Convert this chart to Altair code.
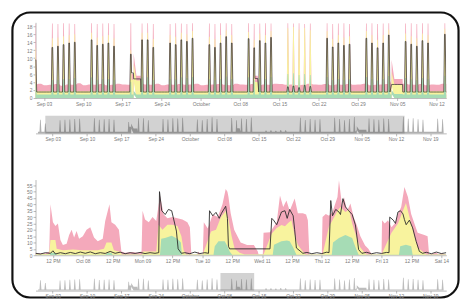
import altair as alt
import pandas as pd

# ---------------- colours ----------------
PINK = "#f4a9bb"
YEL = "#f8f39e"
GRN = "#a6dcb5"
LINE = "#2a2a2a"

# ---------------- long-range series (Aug 31 - Nov 21, 2017) ----------------
spike_days = [
    "2017-08-31", "2017-09-01",
    "2017-09-04", "2017-09-05", "2017-09-06", "2017-09-07", "2017-09-08",
    "2017-09-11", "2017-09-12", "2017-09-13", "2017-09-14", "2017-09-15",
    "2017-09-18", "2017-09-20", "2017-09-21", "2017-09-22",
    "2017-09-25", "2017-09-26", "2017-09-27", "2017-09-28", "2017-09-29",
    "2017-10-02", "2017-10-03", "2017-10-04", "2017-10-05", "2017-10-06",
    "2017-10-09", "2017-10-10", "2017-10-11", "2017-10-12", "2017-10-13",
    "2017-10-16", "2017-10-17", "2017-10-18", "2017-10-19", "2017-10-20",
    "2017-10-23", "2017-10-24", "2017-10-25", "2017-10-26", "2017-10-27",
    "2017-10-30", "2017-10-31", "2017-11-01", "2017-11-02", "2017-11-03",
    "2017-11-06", "2017-11-07", "2017-11-08", "2017-11-09", "2017-11-10",
    "2017-11-13", "2017-11-14", "2017-11-15", "2017-11-16", "2017-11-17",
    "2017-11-20", "2017-11-21",
]
black_peak = [
    13.0, 9.6,
    12.7, 13.0, 13.4, 13.8, 14.0,
    14.6, 13.2, 13.5, 13.8, 13.0,
    11.0, 14.6, 14.6, 12.7,
    13.8, 13.4, 14.6, 14.2, 15.0,
    13.4, 12.7, 13.8, 15.4, 13.8,
    14.9, 12.6, 14.4, 13.8, 15.2,
    2.8, 3.0, 2.6, 3.2, 2.9,
    15.0, 12.8, 13.8, 13.2, 13.5,
    15.0, 13.8, 12.6, 13.8, 15.8,
    14.2, 13.5, 13.0, 14.4, 13.8,
    16.0, 14.0, 14.5, 13.5, 13.0,
    14.0, 13.5,
]
yellow_peak = [
    14.5, 12.5,
    15.0, 15.2, 15.5, 15.8, 16.0,
    16.4, 15.2, 15.5, 15.8, 15.0,
    12.0, 16.4, 16.4, 14.8,
    15.8, 15.4, 16.4, 16.0, 16.8,
    15.4, 14.8, 15.8, 17.0, 15.8,
    16.6, 14.6, 16.2, 15.8, 16.8,
    17.5, 17.8, 17.2, 17.6, 17.0,
    16.8, 14.8, 15.8, 15.2, 15.5,
    16.8, 15.8, 14.6, 15.8, 17.2,
    16.2, 15.5, 15.0, 16.2, 15.8,
    17.4, 16.0, 16.5, 15.5, 15.0,
    16.0, 15.5,
]
pink_peak = [
    18.5, 18.6,
    18.7, 18.6, 18.8, 18.7, 18.6,
    18.8, 18.6, 18.7, 18.8, 18.6,
    18.8, 18.7, 18.8, 18.6,
    18.6, 18.8, 18.7, 18.6, 18.8,
    18.7, 18.6, 18.8, 18.8, 18.6,
    18.8, 18.6, 18.7, 18.8, 18.7,
    18.8, 18.7, 18.8, 18.6, 18.7,
    18.8, 18.6, 18.7, 18.8, 18.6,
    18.7, 18.8, 18.6, 18.7, 18.8,
    18.7, 18.8, 18.6, 18.8, 18.7,
    18.8, 18.7, 18.6, 18.8, 18.7,
    18.6, 18.7,
]
green_peak = [
    4.5, 3.5,
    4.5, 4.6, 4.8, 4.8, 5.0,
    5.2, 4.6, 4.8, 4.8, 4.6,
    4.0, 5.2, 5.2, 4.5,
    4.8, 4.7, 5.2, 5.0, 5.3,
    4.7, 4.5, 4.8, 5.4, 4.8,
    5.2, 4.5, 5.0, 4.8, 5.3,
    6.0, 6.2, 5.8, 6.0, 5.8,
    5.3, 4.5, 4.8, 4.6, 4.7,
    5.3, 4.8, 4.4, 4.8, 5.5,
    5.0, 4.7, 4.5, 5.0, 4.8,
    5.6, 4.9, 5.0, 4.7, 4.5,
    4.9, 4.7,
]
first_day = "2017-08-31"
pink_base = [
    3.3, 3.4, 3.6, 3.2, 3.3, 3.5, 3.1, 3.4, 3.3, 3.7,
    3.2, 3.4, 3.3, 3.5, 3.2, 3.3, 3.6, 3.4, 3.3, 3.2,
    3.5, 3.4, 3.3, 3.6, 3.2, 3.4, 3.3, 3.5, 3.3, 3.4,
    3.6, 3.2, 3.3, 3.4, 3.5, 3.3, 3.2, 3.6, 3.4, 3.3,
    3.5, 3.2, 3.4, 3.3, 3.6, 3.5, 3.3, 3.4, 3.2, 3.3,
    3.6, 3.4, 3.3, 3.5, 3.2, 3.4, 3.3, 3.5, 3.3, 3.4,
    3.6, 3.2, 3.3, 3.4, 3.5, 3.3, 3.2, 3.6, 3.4, 3.3,
    3.5, 3.2, 3.4, 3.3, 3.6, 3.5, 3.3, 3.4, 3.2, 3.3,
    3.5, 3.4, 3.3,
]
black_base = 1.5
yellow_base = 1.7
green_base = 0.9

flat_start = ["2017-09-18 15:00", "2017-09-19 00:00", "2017-10-10 15:00", "2017-11-04 00:00"]
flat_end = ["2017-09-18 23:00", "2017-09-20 06:00", "2017-10-11 03:00", "2017-11-05 23:00"]
flat_black = [6.3, 4.8, 4.9, 3.4]
flat_yellow = [4.6, 4.4, 4.0, 3.3]
flat_pink = [6.0, 5.6, 5.6, 4.8]
flat_green = [0.9, 0.9, 0.9, 1.0]

# ---------------- one-week detail series (hours from Oct 7 00:00) ----------------
d_pink_h = [5, 9, 10.5, 11, 12, 13, 14, 15, 16, 17.5, 18.5, 19.5, 20.5, 21.5, 22.5, 24, 25.5, 27,
            28.5, 30, 32, 33, 34.7, 35.5, 37, 38.5, 39.5, 41, 44, 46, 47.6, 48, 49, 50.5, 52, 53.5,
            55, 56.5, 58, 60, 62, 64, 66, 67, 67.6, 70, 70.5, 71.2, 72.2, 72.6, 74.2, 76.2, 78.2,
            80.1, 81.4, 82.1, 82.5, 83.4, 84.8, 87.4, 90, 92.7, 94.3, 94.6, 96.3, 96.6, 99.2, 101.9,
            103.2, 104.5, 105.8, 107.1, 109.1, 110.4, 112.4, 113.7, 114.4, 115.0, 120.0, 120.3, 121.6,
            122.9, 124.3, 126.3, 126.9, 128.2, 128.9, 130.2, 131.5, 132.8, 134.2, 135.5, 137.4, 138.7,
            140.1, 144.0, 144.2, 145.3, 146.6, 148.0, 149.3, 150.6, 151.9, 153.2, 154.6, 155.9, 157.2,
            158.5, 161.2, 162.5, 163.1, 166, 167, 168, 170]
d_pink_v = [1.5, 1.5, 3, 40, 26, 23, 25, 12, 8, 9, 16, 20, 14, 19, 13, 15, 20, 22,
            14, 11, 13, 27, 40, 26, 24, 20, 3, 2, 2.5, 2, 3, 35, 28, 26, 30, 27,
            47, 32, 29, 30, 29, 28, 26, 22, 0.5, 0.5, 3, 0.5, 0.5, 26, 21, 32, 30,
            40, 52, 50, 46, 33, 20, 10, 8, 8, 3, 0.5, 0.5, 17.6, 18, 26,
            47, 38, 43, 35, 44.7, 33, 33, 32, 27.6, 0.5, 0.5, 30, 32.5,
            31, 34, 45.7, 59, 38, 45.7, 35, 40.6, 30, 22.7, 15, 7.6, 5,
            0.5, 0.5, 27.6, 25, 27.6, 22, 25, 32.5, 38, 53.6, 45.7, 32.5, 25,
            17.6, 16, 15, 0.5, 2, 0.5, 1.5, 0.5]

d_yel_h = [5, 10.5, 11, 13, 13.5, 16, 20, 24, 30, 32.5, 33.5, 35.5, 36.5, 39.3, 39.6, 47.8, 48.2,
           53.5, 54.4, 56, 58, 60, 62, 63.6, 64.5, 65.5, 72.2, 75.5, 77.5, 79.5, 81.5, 82.6, 83.8,
           85, 87, 89, 96.6, 99.9, 101.9, 103.8, 105.2, 106.5, 107.8, 109.1, 110.4, 112.4, 113.5,
           120.3, 122.9, 124.3, 126.3, 127.5, 129.5, 131, 132.2, 134.2, 135.5, 136.8, 138, 144,
           148, 150.6, 153.8, 155.9, 157.2, 158.5, 160.5, 162, 170]
d_yel_v = [0.8, 1, 12, 12, 5, 4, 4.5, 4, 4, 5, 10, 10, 4, 2.5, 0.5, 0.5, 3,
           3, 24, 20, 24, 24, 23, 15, 4, 0.5, 0.5, 18.6, 20, 30, 35, 27.6, 14.7,
           5, 2, 0.5, 0.5, 17, 21.5, 23.8, 22.7, 25.3, 27.6, 16, 8, 3, 0.5,
           0.5, 22.7, 27.6, 35, 38, 34, 36, 25, 12.6, 6, 3, 0.5, 0.5,
           17.6, 25, 41, 25, 15, 6, 3, 0.5, 0.5]

d_grn_h = [5, 10.8, 11, 13, 13.5, 33, 34, 35.5, 36, 55.0, 55.5, 57, 59.7, 62, 63.4, 63.8,
           76.5, 77, 78.5, 81, 82.1, 83, 84, 100.3, 100.8, 103.8, 106, 107.1, 108.5, 109.8,
           124, 124.5, 126.9, 129.5, 132.2, 133.5, 134.8, 151, 151.5, 153.8, 155.9, 156.5, 170]
d_grn_v = [0.3, 0.3, 2, 2, 0.3, 0.3, 2, 2, 0.3, 0.3, 13, 13.5, 15.3, 13, 10, 0.3,
           0.3, 7, 10.9, 11, 7, 3, 0.3, 0.3, 8.3, 10.9, 11.5, 10.9, 6, 0.3,
           0.3, 10, 13.5, 16, 13.5, 6.4, 0.3, 0.3, 7, 8.3, 7, 0.3, 0.3]

d_blk_h = [5, 7, 9, 11, 12, 13, 15, 17, 19, 21, 23, 25, 27, 29, 31, 33, 35, 37, 39, 41, 43, 45, 47,
           49, 51, 53, 54.5, 54.8, 55.7, 57.1, 58.4, 59.7, 60.3, 61.6, 62.3, 63.6, 65, 67, 69, 71,
           73, 74.5, 74.9, 76.2, 77.5, 78.8, 79.7, 81.4, 82.1, 82.5, 83, 99.2, 99.9, 100.6, 101.9,
           103.8, 105.2, 106.1, 107.1, 108.5, 109.1, 109.8, 112.4, 114, 116, 118, 120, 122, 122.9,
           123.6, 124.3, 125.6, 126.9, 127.5, 128.5, 129.5, 130.8, 132.2, 133.5, 134.8, 136.1, 138,
           140, 142, 144, 146, 147.0, 147.3, 148.7, 149.6, 150.6, 151.6, 152.6, 153.2, 153.9, 155.2,
           156.5, 157.9, 159.2, 160.5, 162, 164, 166, 168, 170]
d_blk_v = [1.5, 1, 2, 1.5, 3.5, 1, 2, 1.2, 2.2, 1.3, 2.5, 1.5, 2.6, 1.2, 2, 1.4, 3, 1.5, 2.4, 1.2, 2, 1.4, 2.2,
           1.3, 2, 1.5, 2, 50, 35, 32, 36, 35, 30, 19, 5, 1.5, 2, 1.2, 2.5, 1.3,
           2, 1.5, 35, 31, 33.7, 29, 33, 38.5, 29, 7, 5, 5, 29, 27.6, 24,
           34, 35, 29, 36, 31, 20, 5.7, 1.5, 2.2, 1.2, 2, 1.3, 2.4, 2,
           43, 31, 36, 34, 32, 44.5, 38, 35, 32, 23.8, 4.4, 1.5, 2.3,
           1.2, 2, 1.4, 2.2, 2, 30, 27.6, 25, 34, 35, 32.5, 28, 24, 27.6,
           21.5, 11, 3, 1.5, 2.3, 1.2, 2.5, 1.3, 2]

# ---------------- build tables ----------------
days = pd.date_range(first_day, periods=len(pink_base), freq="D")
spk = {pd.Timestamp(d): i for i, d in enumerate(spike_days)}
fs = [pd.Timestamp(s) for s in flat_start]
fe = [pd.Timestamp(s) for s in flat_end]


def base_at(t, di):
    for k in range(len(fs)):
        if fs[k] <= t <= fe[k]:
            return (flat_black[k], flat_yellow[k], flat_pink[k], flat_green[k])
    return (black_base, yellow_base, pink_base[di], green_base)


rows = []
for di, d in enumerate(days):
    if d in spk:
        i = spk[d]
        for hh in (0, 7.5, 17):
            t = d + pd.Timedelta(hours=hh)
            rows.append((t,) + base_at(t, di))
        for hh in (10.5, 13.5):
            rows.append((d + pd.Timedelta(hours=hh), black_peak[i], yellow_peak[i], pink_peak[i], green_peak[i]))
    else:
        for hh in (0, 12):
            t = d + pd.Timedelta(hours=hh)
            rows.append((t,) + base_at(t, di))
for k in range(len(fs)):
    for t in (fs[k], fe[k]):
        rows.append((t, flat_black[k], flat_yellow[k], flat_pink[k], flat_green[k]))
top = pd.DataFrame(rows, columns=["t", "black", "yellow", "pink", "green"]).sort_values("t", kind="stable")

t0 = pd.Timestamp("2017-10-07")


def series(hs, vs):
    return pd.DataFrame({"t": [t0 + pd.Timedelta(hours=h) for h in hs], "v": vs})


det_pink = series(d_pink_h, d_pink_v)
det_yel = series(d_yel_h, d_yel_v)
det_grn = series(d_grn_h, d_grn_v)
det_blk = series(d_blk_h, d_blk_v)

brush1 = pd.DataFrame({"s": [pd.Timestamp("2017-09-01 12:00")], "e": [pd.Timestamp("2017-11-13 18:00")]})
brush2 = pd.DataFrame({"s": [pd.Timestamp("2017-10-07 05:00")], "e": [pd.Timestamp("2017-10-14 02:00")]})


def dt(m, d, h=0):
    return alt.DateTime(year=2017, month=m, date=d, hours=h)


W = 418
noax = alt.Axis(title=None)

# ---------------- main chart 1 ----------------
xs1 = alt.Scale(domain=[dt(9, 1, 12), dt(11, 13, 18)])
ys1 = alt.Scale(domain=[0, 19], nice=False)
yax1 = alt.Axis(title=None, tickCount=10)
c1 = alt.Chart(top)
m1 = alt.layer(
    c1.mark_area(color=PINK, clip=True).encode(x=alt.X("t:T", scale=xs1, axis=noax), y=alt.Y("pink:Q", scale=ys1, axis=yax1)),
    c1.mark_area(color=YEL, clip=True).encode(x=alt.X("t:T", scale=xs1, axis=noax), y=alt.Y("yellow:Q", scale=ys1, axis=yax1)),
    c1.mark_area(color=GRN, clip=True).encode(x=alt.X("t:T", scale=xs1, axis=noax), y=alt.Y("green:Q", scale=ys1, axis=yax1)),
    c1.mark_line(color=LINE, strokeWidth=0.7, clip=True).encode(x=alt.X("t:T", scale=xs1, axis=noax), y=alt.Y("black:Q", scale=ys1, axis=yax1)),
    alt.Chart(pd.DataFrame({"k": [0]})).mark_rect(fill="transparent", stroke="#111111", strokeWidth=2.2, cornerRadius=18).encode(
        x=alt.value(-23.5), x2=alt.value(430.5), y=alt.value(-10), y2=alt.value(280)),
).properties(width=W, height=77)

# ---------------- overviews ----------------
xso = alt.Scale(domain=[dt(8, 30, 12), dt(11, 22, 6)])


def overview(ymax, fill, brush_df):
    a = alt.Chart(top).mark_area(color=fill).encode(
        x=alt.X("t:T", scale=xso, axis=noax),
        y=alt.Y("black:Q", scale=alt.Scale(domain=[0, ymax], nice=False), axis=None))
    b = alt.Chart(brush_df).mark_rect(color="#333333", opacity=0.22).encode(
        x=alt.X("s:T", scale=xso, axis=noax), x2="e:T", y=alt.value(0), y2=alt.value(18))
    return alt.layer(a, b).properties(width=W, height=18)


ov1 = overview(17, "#b0b0b0", brush1)
ov2 = overview(22, "#bdbdbd", brush2)

# ---------------- main chart 2 ----------------
xs2 = alt.Scale(domain=[dt(10, 7, 5), dt(10, 14, 2)])
ys2 = alt.Scale(domain=[0, 59.5], nice=False, range=[106, 29])
yax2 = alt.Axis(title=None, tickCount=10)


def enc(ch):
    return ch.encode(x=alt.X("t:T", scale=xs2, axis=noax), y=alt.Y("v:Q", scale=ys2, axis=yax2))


m2 = alt.layer(
    enc(alt.Chart(det_pink).mark_area(color=PINK, clip=True)),
    enc(alt.Chart(det_yel).mark_area(color=YEL, clip=True)),
    enc(alt.Chart(det_grn).mark_area(color=GRN, clip=True)),
    enc(alt.Chart(det_blk).mark_line(color=LINE, strokeWidth=0.9, clip=True)),
).properties(width=W, height=106)

chart = alt.vconcat(m1, ov1, m2, ov2, spacing=18, bounds="flush").properties(
    padding={"left": 2, "top": 0, "right": 0, "bottom": 0}
).configure_view(stroke="transparent").configure_axis(
    labelFontSize=5, labelColor="#7a7a7a", labelFont="Liberation Sans", tickSize=2.5, tickWidth=0.6,
    tickColor="#8a8a8a", domainColor="#8a8a8a", domainWidth=0.6, labelPadding=1, grid=False
)

chart.save("out.html", embed_options={"renderer": "svg", "actions": False})
